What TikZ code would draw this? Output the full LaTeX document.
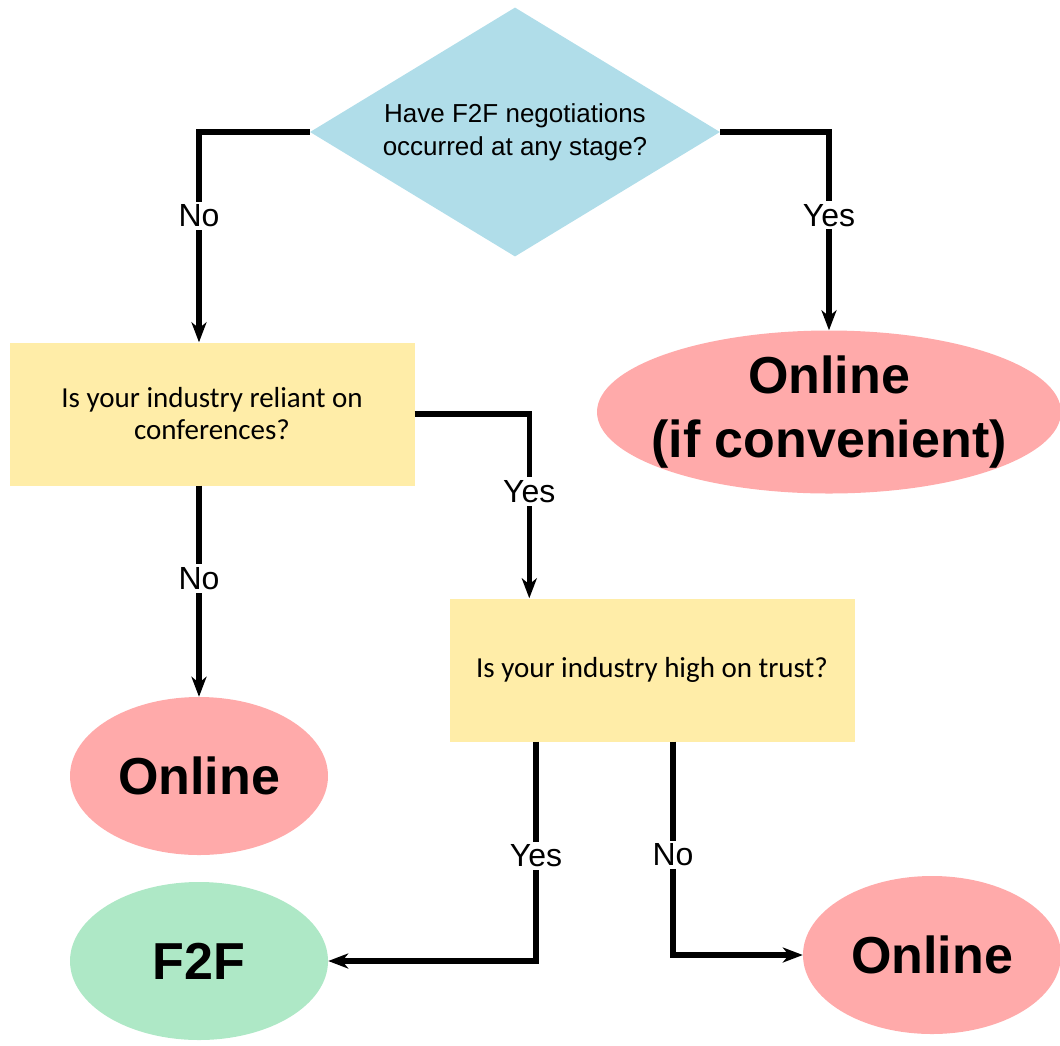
\documentclass[tikz,border=0pt]{standalone}
\usepackage{fontspec}
\setmainfont{Liberation Sans}
\newfontfamily\boxfont{Carlito}
\definecolor{QuestionBlue}{HTML}{B0DDE9}
\definecolor{BoxYellow}{HTML}{FFEDA8}
\definecolor{OnlinePink}{HTML}{FFAAAA}
\definecolor{MeetGreen}{HTML}{AEE8C6}
\usetikzlibrary{shapes.geometric, arrows.meta, calc}
\tikzset{
  % Box styles
  questionbox/.style={diamond, fill=QuestionBlue, aspect=1.65, inner sep=0pt, minimum width=410pt, minimum height=249pt, font=\fontsize{26}{33}\selectfont, align=center},
  choicebox/.style={rectangle, fill=BoxYellow, minimum width=405pt, minimum height=143pt, font=\boxfont\fontsize{29}{32}\selectfont, align=center},
  onlineblob/.style={ellipse, fill=OnlinePink, inner sep=0pt, minimum width=258pt, minimum height=158pt, font=\bfseries\fontsize{52}{64}\selectfont, align=center},
  meetblob/.style={ellipse, fill=MeetGreen, inner sep=0pt, minimum width=258pt, minimum height=158pt, font=\bfseries\fontsize{52}{64}\selectfont, align=center},
  % Arrow styles
  flowarrow/.style={-{Stealth[length=20pt, width=15pt, inset=6pt]}, line width=5.5pt, black},
  % Label style
  answer/.style={fill=white, inner sep=3pt, font=\fontsize{32}{38}\selectfont}
}
\begin{document}
\begin{tikzpicture}[x=1pt, y=-1pt]
  \useasboundingbox (0,0) rectangle (1060,1045);

  % Questions
  \node[questionbox] (f2fq) at (515,132) {Have F2F negotiations\\occurred at any stage?};
  \node[choicebox] (confq) at (212,414) {Is your industry reliant on\\conferences?};
  \node[choicebox] (trustq) at (652,670) {Is your industry high on trust?};

  % Outcomes
  \node[onlineblob, inner xsep=-30pt, inner ysep=-6pt, minimum width=464pt, minimum height=163pt] (conv) at (829,412) {Online\\(if convenient)};
  \node[onlineblob] (onleft) at (199,776) {Online};
  \node[meetblob] (f2f) at (199,961) {F2F};
  \node[onlineblob] (onright) at (932,955) {Online};

  % Connectors
  \draw[flowarrow] (f2fq.west) -| (onleft.north |- confq.north)
    node[answer, pos=0.7] {No};
  \draw[flowarrow] (f2fq.east) -| (conv.north)
    node[answer, pos=0.71] {Yes};
  \draw[flowarrow] (confq.east) -| ([xshift=80pt]trustq.north west)
    node[answer, pos=0.71] {Yes};
  \draw[flowarrow] (onleft.north |- confq.south) -- (onleft.north)
    node[answer, pos=0.44] {No};
  \draw[flowarrow] ([xshift=-116pt]trustq.south) |- (f2f.east)
    node[answer, pos=0.26] {Yes};
  \draw[flowarrow] ([xshift=21pt]trustq.south) |- (onright.west)
    node[answer, pos=0.265] {No};
\end{tikzpicture}
\end{document}
